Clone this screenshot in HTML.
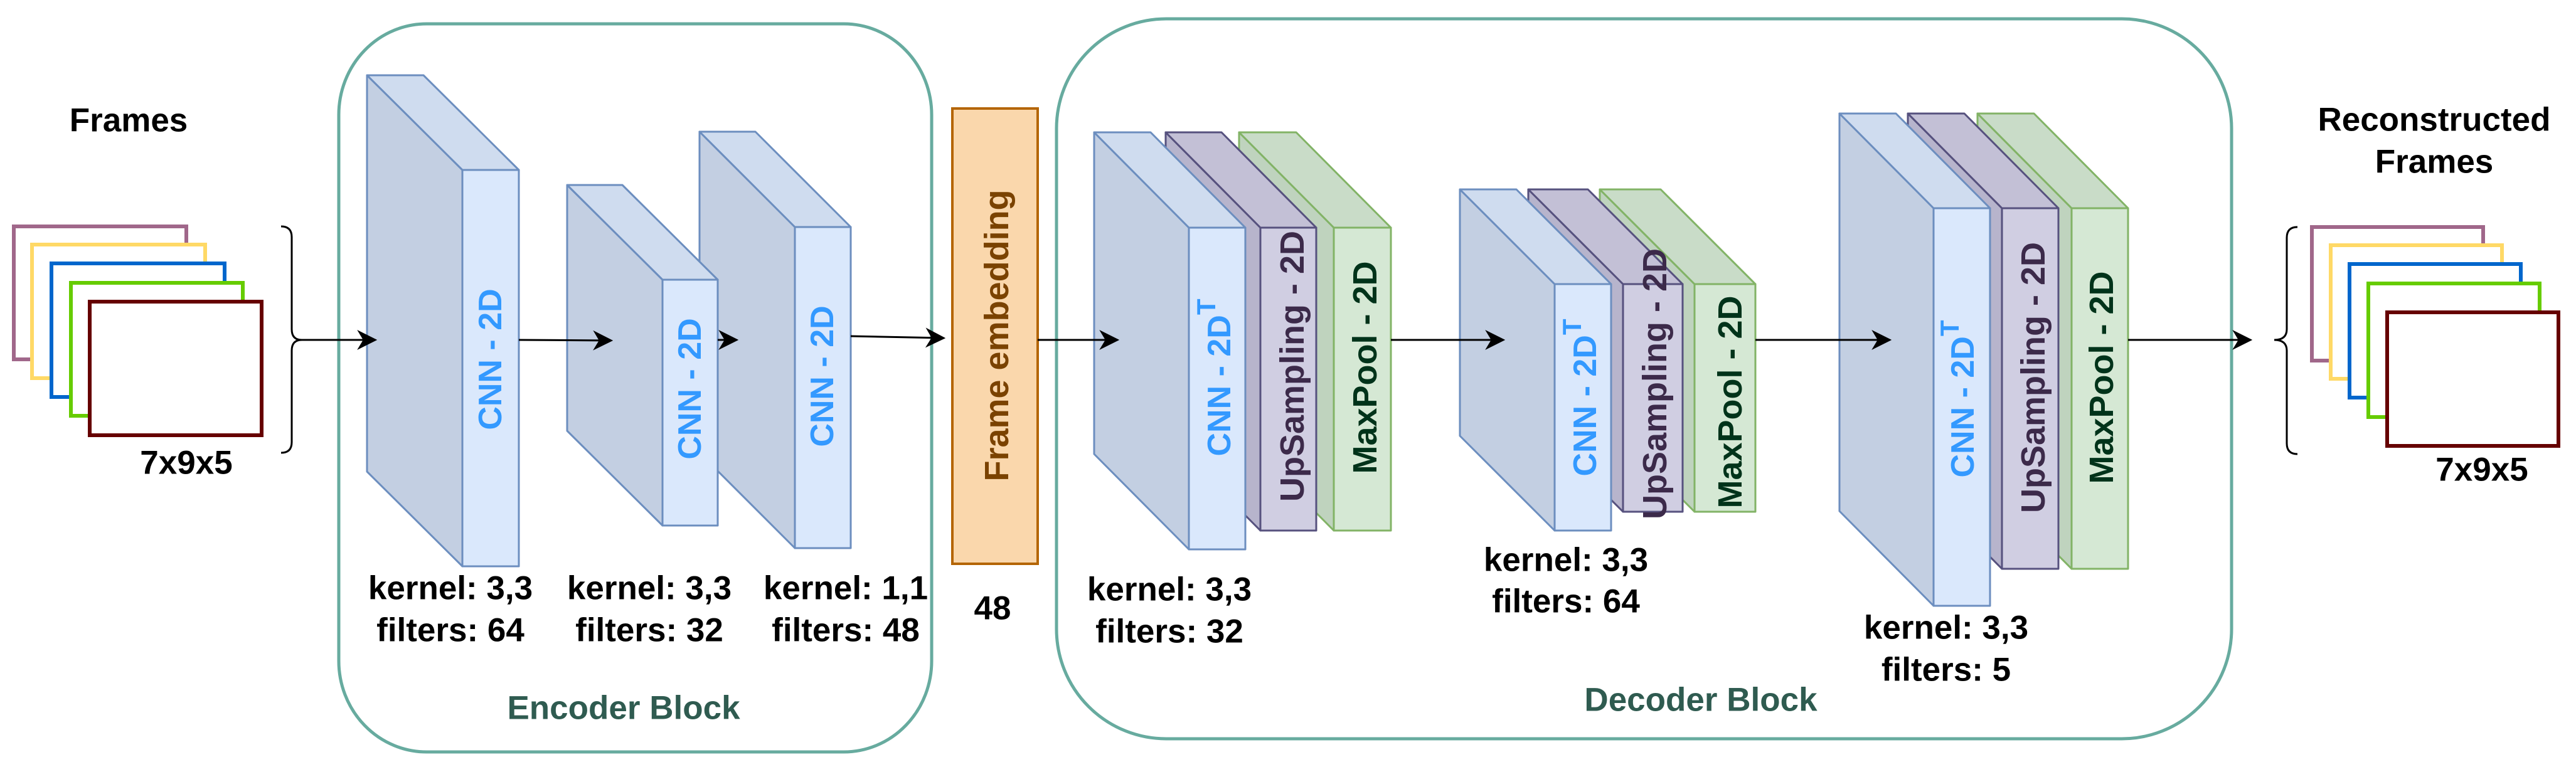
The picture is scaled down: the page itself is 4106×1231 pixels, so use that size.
<!DOCTYPE html>
<html><head><meta charset="utf-8"><style>
html,body{margin:0;padding:0;background:#fff;}
svg{display:block;}
text{font-family:"Liberation Sans",Arial,sans-serif;font-weight:bold;}
</style></head><body>
<svg width="4106" height="1231" viewBox="0 0 4106 1231" xmlns="http://www.w3.org/2000/svg">
<defs>
<marker id="ah" viewBox="0 0 10 10" refX="9" refY="5" markerWidth="32" markerHeight="32" markerUnits="userSpaceOnUse" orient="auto">
<path d="M0,0 L10,5 L0,10 L3,5 Z" fill="#000"/>
</marker>
</defs>

<rect x="540" y="38" width="945" height="1161" rx="140" ry="145" fill="none" stroke="#67AB9F" stroke-width="5"/>
<rect x="1684" y="30" width="1873" height="1148" rx="175" ry="175" fill="none" stroke="#67AB9F" stroke-width="5"/>
<text x="994" y="1129" font-size="53" fill="#2F5B50" text-anchor="middle" dominant-baseline="central">Encoder Block</text>
<text x="2711" y="1116" font-size="53" fill="#2F5B50" text-anchor="middle" dominant-baseline="central">Decoder Block</text>

<g fill="#fff" stroke-width="6">
<rect x="22" y="361" width="275" height="212" stroke="#A0678A"/>
<rect x="51" y="390" width="276" height="213" stroke="#FFD966"/>
<rect x="82" y="420" width="276" height="213" stroke="#0066CC"/>
<rect x="113" y="451" width="274" height="212" stroke="#66CC00"/>
<rect x="143" y="481" width="274" height="213" stroke="#660000"/>
</g>
<text x="205" y="192" font-size="53" text-anchor="middle" dominant-baseline="central">Frames</text>
<text x="297" y="738" font-size="53" text-anchor="middle" dominant-baseline="central">7x9x5</text>
<path d="M448,361 Q465,361 465,378 L465,525 Q465,542 481,542 Q465,542 465,559 L465,705 Q465,722 448,722" fill="none" stroke="#000" stroke-width="3"/>

<g fill="#fff" stroke-width="6">
<rect x="3685" y="362" width="273" height="213" stroke="#A0678A"/>
<rect x="3715" y="391" width="273" height="213" stroke="#FFD966"/>
<rect x="3745" y="421" width="273" height="213" stroke="#0066CC"/>
<rect x="3775" y="452" width="273" height="213" stroke="#66CC00"/>
<rect x="3805" y="498" width="273" height="213" stroke="#660000"/>
</g>
<text x="3880" y="191" font-size="53" text-anchor="middle" dominant-baseline="central">Reconstructed</text>
<text x="3880" y="258" font-size="53" text-anchor="middle" dominant-baseline="central">Frames</text>
<text x="3956" y="749" font-size="53" text-anchor="middle" dominant-baseline="central">7x9x5</text>
<path d="M3662,362 Q3645,362 3645,379 L3645,525 Q3645,542 3625,542 Q3645,542 3645,559 L3645,707 Q3645,724 3662,724" fill="none" stroke="#000" stroke-width="3"/>

<!-- encoder blocks (CNN3 first, then CNN2, then CNN1) -->
<g stroke="#6C8EBF" stroke-width="3" stroke-linejoin="round">
<polygon points="1115,210 1267,362 1267,874 1115,722" fill="#C3CFE2"/>
<polygon points="1115,210 1204,210 1356,362 1267,362" fill="#CFDCEF"/>
<rect x="1267" y="362" width="89" height="512" fill="#DAE8FC"/>

<polygon points="904,295 1056,446 1056,838 904,687" fill="#C3CFE2"/>
<polygon points="904,295 992,295 1144,446 1056,446" fill="#CFDCEF"/>
<rect x="1056" y="446" width="88" height="392" fill="#DAE8FC"/>

<polygon points="585,120 737,271 737,903 585,752" fill="#C3CFE2"/>
<polygon points="585,120 675,120 827,271 737,271" fill="#CFDCEF"/>
<rect x="737" y="271" width="90" height="632" fill="#DAE8FC"/>
</g>
<g font-size="52" fill="#3399FF" text-anchor="middle" dominant-baseline="central">
<text transform="translate(782,573) rotate(-90)">CNN - 2D</text>
<text transform="translate(1100,620) rotate(-90)">CNN - 2D</text>
<text transform="translate(1311,600) rotate(-90)">CNN - 2D</text>
</g>

<rect x="1518" y="173" width="136" height="726" fill="#FAD7AC" stroke="#B46504" stroke-width="4"/>
<text transform="translate(1589,535) rotate(-90)" font-size="54" fill="#7A4200" text-anchor="middle" dominant-baseline="central">Frame embedding</text>
<text x="1582" y="970" font-size="53" text-anchor="middle" dominant-baseline="central">48</text>

<g stroke-width="3" stroke-linejoin="round">
<!-- group 1: MaxPool, UpSampling, CNN -->
<g stroke="#82B366">
<polygon points="1975,211 2126,363 2126,846 1975,694" fill="#BFD3BE"/>
<polygon points="1975,211 2066,211 2217,363 2126,363" fill="#C9DCC8"/>
<rect x="2126" y="363" width="91" height="483" fill="#D5E8D4"/>
</g>
<g stroke="#56517E">
<polygon points="1858,211 2009,363 2009,846 1858,694" fill="#B7B4CC"/>
<polygon points="1858,211 1947,211 2098,363 2009,363" fill="#C3C0D6"/>
<rect x="2009" y="363" width="89" height="483" fill="#D0CEE2"/>
</g>
<g stroke="#6C8EBF">
<polygon points="1744,211 1895,363 1895,876 1744,724" fill="#C3CFE2"/>
<polygon points="1744,211 1834,211 1985,363 1895,363" fill="#CFDCEF"/>
<rect x="1895" y="363" width="90" height="513" fill="#DAE8FC"/>
</g>

<!-- group 2 -->
<g stroke="#82B366">
<polygon points="2550,302 2701,453 2701,816 2550,665" fill="#BFD3BE"/>
<polygon points="2550,302 2647,302 2798,453 2701,453" fill="#C9DCC8"/>
<rect x="2701" y="453" width="97" height="363" fill="#D5E8D4"/>
</g>
<g stroke="#56517E">
<polygon points="2436,302 2587,453 2587,816 2436,665" fill="#B7B4CC"/>
<polygon points="2436,302 2531,302 2682,453 2587,453" fill="#C3C0D6"/>
<rect x="2587" y="453" width="95" height="363" fill="#D0CEE2"/>
</g>
<g stroke="#6C8EBF">
<polygon points="2327,302 2478,453 2478,846 2327,695" fill="#C3CFE2"/>
<polygon points="2327,302 2417,302 2568,453 2478,453" fill="#CFDCEF"/>
<rect x="2478" y="453" width="90" height="393" fill="#DAE8FC"/>
</g>

<!-- group 3 -->
<g stroke="#82B366">
<polygon points="3152,181 3302,332 3302,907 3152,756" fill="#BFD3BE"/>
<polygon points="3152,181 3242,181 3392,332 3302,332" fill="#C9DCC8"/>
<rect x="3302" y="332" width="90" height="575" fill="#D5E8D4"/>
</g>
<g stroke="#56517E">
<polygon points="3041,181 3191,332 3191,907 3041,756" fill="#B7B4CC"/>
<polygon points="3041,181 3131,181 3281,332 3191,332" fill="#C3C0D6"/>
<rect x="3191" y="332" width="90" height="575" fill="#D0CEE2"/>
</g>
<g stroke="#6C8EBF">
<polygon points="2932,181 3082,332 3082,966 2932,815" fill="#C3CFE2"/>
<polygon points="2932,181 3022,181 3172,332 3082,332" fill="#CFDCEF"/>
<rect x="3082" y="332" width="90" height="634" fill="#DAE8FC"/>
</g>
</g>

<g font-size="54" text-anchor="middle" dominant-baseline="central">
<text transform="translate(1944,602) rotate(-90)" fill="#3399FF" font-size="52">CNN - 2D<tspan font-size="42" dy="-22">T</tspan></text>
<text transform="translate(2060,584) rotate(-90)" fill="#3C2A4A">UpSampling - 2D</text>
<text transform="translate(2176,586) rotate(-90)" fill="#00331A">MaxPool - 2D</text>
<text transform="translate(2527,634) rotate(-90)" fill="#3399FF" font-size="52">CNN - 2D<tspan font-size="42" dy="-22">T</tspan></text>
<text transform="translate(2638,612) rotate(-90)" fill="#3C2A4A">UpSampling - 2D</text>
<text transform="translate(2758,641) rotate(-90)" fill="#00331A">MaxPool - 2D</text>
<text transform="translate(3129,636) rotate(-90)" fill="#3399FF" font-size="52">CNN - 2D<tspan font-size="42" dy="-22">T</tspan></text>
<text transform="translate(3241,602) rotate(-90)" fill="#3C2A4A">UpSampling - 2D</text>
<text transform="translate(3350,602) rotate(-90)" fill="#00331A">MaxPool - 2D</text>
</g>

<g font-size="53" text-anchor="middle" dominant-baseline="central">
<text x="718" y="938">kernel: 3,3</text><text x="718" y="1005">filters: 64</text>
<text x="1035" y="938">kernel: 3,3</text><text x="1035" y="1005">filters: 32</text>
<text x="1348" y="938">kernel: 1,1</text><text x="1348" y="1005">filters: 48</text>
<text x="1864" y="940">kernel: 3,3</text><text x="1864" y="1007">filters: 32</text>
<text x="2496" y="893">kernel: 3,3</text><text x="2496" y="959">filters: 64</text>
<text x="3102" y="1001">kernel: 3,3</text><text x="3102" y="1068">filters: 5</text>
</g>

<g stroke="#000" stroke-width="3" fill="none" marker-end="url(#ah)">
<line x1="481" y1="542" x2="598" y2="542"/>
<line x1="827" y1="542" x2="974" y2="543"/>
<line x1="1144" y1="542" x2="1174" y2="542"/>
<line x1="1356" y1="536" x2="1504" y2="539"/>
<line x1="1654" y1="542" x2="1781" y2="542"/>
<line x1="2217" y1="542" x2="2396" y2="542"/>
<line x1="2798" y1="542" x2="3012" y2="542"/>
<line x1="3392" y1="542" x2="3587" y2="542"/>
</g>
</svg>
</body></html>
